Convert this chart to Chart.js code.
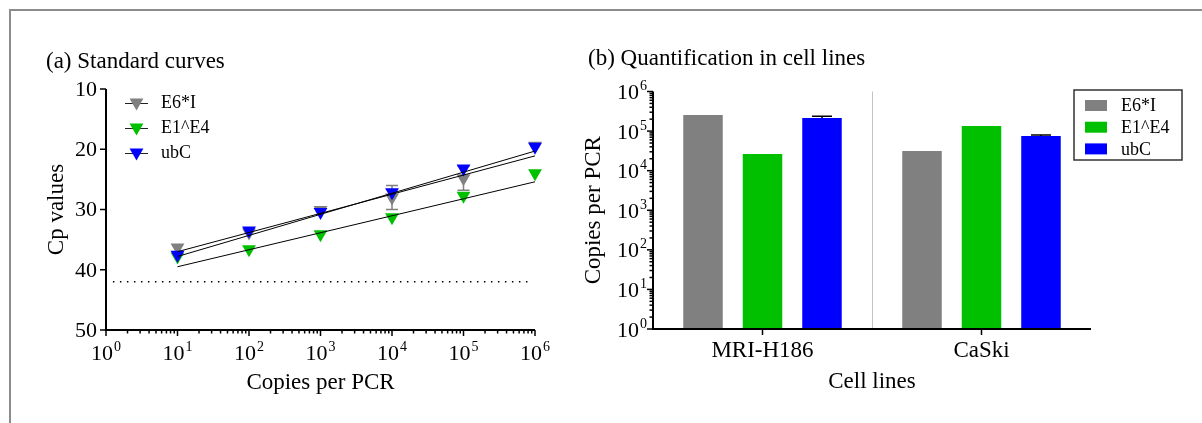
<!DOCTYPE html>
<html>
<head>
<meta charset="utf-8">
<script src="https://cdn.jsdelivr.net/npm/chart.js@4.4.1/dist/chart.umd.min.js"></script>
<style>
  html, body { margin: 0; padding: 0; background: #fff; }
  #page { position: relative; width: 1202px; height: 423px; overflow: hidden; }
  #frame { position: absolute; left: 9px; top: 9px; width: 1200px; height: 420px;
           border-top: 2px solid #8c8c8c; border-left: 2px solid #8c8c8c; }
  canvas { position: absolute; top: 0; }
</style>
</head>
<body>
<div id="page">
  <div id="frame"></div>
  <canvas id="curves" width="560" height="423" style="left:0"></canvas>
  <canvas id="cells" width="642" height="423" style="left:560px"></canvas>
</div>
<script>
const FONT = '"Liberation Serif", "Times New Roman", serif';

// (a) standard curves
const copies = [10, 100, 1000, 10000, 100000, 1000000];
const cpE6 = [36.3, 33.8, 30.1, 28.0, 24.8, 19.4];
const sdE6 = [0, 0, 0, 2.0, 2.0, 0];
const cpE1 = [37.8, 36.6, 34.1, 31.3, 27.7, 24.0];
const sdE1 = [0, 0, 0, 0, 0, 0];
const cpUbc = [37.5, 33.5, 30.4, 27.15, 23.2, 19.6];
const sdUbc = [0, 0, 0, 0, 0, 0];
const fitX = [10, 1000000];
const fitE6 = [37.0, 21.1];
const fitE1 = [39.5, 25.4];
const fitUbc = [37.8, 20.3];
const cutoffX = [1.25, 900000];
const cutoffCp = [42, 42];

// (b) quantification in cell lines
const cellLines = ['MRI-H186', 'CaSki'];
const barE6 = [255000, 31400];
const barE1 = [26400, 135000];
const barUbc = [214000, 75200];
const errE6 = [0, 0];
const errE1 = [0, 0];
const errUbc = [24000, 4500];

const seriesNames = ['E6*I', 'E1^E4', 'ubC'];
const seriesColors = ['#808080', '#00c000', '#0000ff'];

const xy = (xs, ys) => xs.map((x, i) => ({ x, y: ys[i] }));

function isDecade(v) {
  const l = Math.log10(v);
  return Math.abs(l - Math.round(l)) < 1e-6;
}

// log scale ticks at 1..9 x 10^n only (chart.js also makes 15, 150...)
function logTicks(scale) {
  return scale.ticks.map(t => t.value).filter(v => {
    const p = Math.pow(10, Math.floor(Math.log10(v) + 1e-9));
    return Math.abs(v / p - Math.round(v / p)) < 1e-6;
  });
}

function powerLabel(ctx, v, x, y, align) {
  const exp = String(Math.round(Math.log10(v)));
  ctx.font = '22px ' + FONT;
  const wb = ctx.measureText('10').width;
  ctx.font = '14px ' + FONT;
  const we = ctx.measureText(exp).width;
  const total = wb + 1 + we;
  const left = align === 'right' ? x - total : x - total / 2;
  ctx.textAlign = 'left';
  ctx.textBaseline = 'alphabetic';
  ctx.font = '22px ' + FONT;
  ctx.fillText('10', left, y);
  ctx.font = '14px ' + FONT;
  ctx.fillText(exp, left + wb + 1, y - 9);
}

function downTriangle(ctx, cx, cy, r, color) {
  const s = r * Math.sin(Math.PI / 3);
  ctx.beginPath();
  ctx.moveTo(cx, cy + r);
  ctx.lineTo(cx - s, cy - r / 2);
  ctx.lineTo(cx + s, cy - r / 2);
  ctx.closePath();
  ctx.fillStyle = color;
  ctx.fill();
}

const curveErrors = [sdE6, sdE1, sdUbc];

const curveDecor = {
  id: 'curveDecor',
  beforeDatasetsDraw(chart) {
    const { ctx, scales: { x, y } } = chart;
    ctx.save();
    ctx.lineWidth = 1.5;
    chart.data.datasets.forEach((ds, di) => {
      const sd = curveErrors[ds.series];
      if (!sd) return;
      ctx.strokeStyle = ds.backgroundColor;
      ds.data.forEach((p, i) => {
        if (!sd[i]) return;
        const px = x.getPixelForValue(p.x);
        const y1 = y.getPixelForValue(p.y - sd[i]);
        const y2 = y.getPixelForValue(p.y + sd[i]);
        ctx.beginPath();
        ctx.moveTo(px, y1); ctx.lineTo(px, y2);
        ctx.moveTo(px - 6, y1); ctx.lineTo(px + 6, y1);
        ctx.moveTo(px - 6, y2); ctx.lineTo(px + 6, y2);
        ctx.stroke();
      });
    });
    ctx.restore();
  },
  afterDraw(chart) {
    const { ctx, chartArea: a, scales: { x, y } } = chart;
    ctx.save();
    ctx.strokeStyle = '#000';
    ctx.fillStyle = '#000';
    ctx.lineWidth = 2;
    ctx.beginPath();
    ctx.moveTo(a.left, a.top);
    ctx.lineTo(a.left, a.bottom);
    ctx.lineTo(a.right, a.bottom);
    ctx.stroke();

    ctx.lineWidth = 1.5;
    y.ticks.forEach(t => {
      const py = y.getPixelForValue(t.value);
      ctx.beginPath(); ctx.moveTo(a.left - 6, py); ctx.lineTo(a.left, py); ctx.stroke();
      ctx.font = '22px ' + FONT;
      ctx.textAlign = 'right';
      ctx.textBaseline = 'middle';
      ctx.fillText(String(t.value), a.left - 9, py + 1);
    });
    logTicks(x).forEach(v => {
      const px = x.getPixelForValue(v);
      const major = isDecade(v);
      ctx.beginPath(); ctx.moveTo(px, a.bottom); ctx.lineTo(px, a.bottom + (major ? 6 : 3.5)); ctx.stroke();
      if (major) powerLabel(ctx, v, px, a.bottom + 30, 'center');
    });

    ctx.font = '23px ' + FONT;
    ctx.textAlign = 'left';
    ctx.textBaseline = 'alphabetic';
    ctx.fillText('(a) Standard curves', 46, 68);
    ctx.textAlign = 'center';
    ctx.fillText('Copies per PCR', (a.left + a.right) / 2, 389);
    ctx.save();
    ctx.translate(57, (a.top + a.bottom) / 2);
    ctx.rotate(-Math.PI / 2);
    ctx.textBaseline = 'middle';
    ctx.fillText('Cp values', 0, 0);
    ctx.restore();

    // legend
    seriesNames.forEach((name, i) => {
      const ly = 102.5 + 25 * i;
      ctx.strokeStyle = '#222';
      ctx.lineWidth = 1;
      ctx.beginPath(); ctx.moveTo(125, ly + 1); ctx.lineTo(148, ly + 1); ctx.stroke();
      downTriangle(ctx, 136.5, ly, 8, seriesColors[i]);
      ctx.fillStyle = '#000';
      ctx.font = '18px ' + FONT;
      ctx.textAlign = 'left';
      ctx.textBaseline = 'middle';
      ctx.fillText(name, 161, ly + 1);
    });
    ctx.restore();
  }
};

const pointSet = (i, ys, order) => ({
  label: seriesNames[i],
  series: i,
  data: xy(copies, ys),
  showLine: false,
  pointStyle: 'triangle',
  rotation: 180,
  pointRadius: 8,
  pointBorderWidth: 0,
  backgroundColor: seriesColors[i],
  borderColor: seriesColors[i],
  clip: false,
  order
});
const fitSet = ys => ({
  data: xy(fitX, ys),
  borderColor: '#000',
  borderWidth: 1,
  pointRadius: 0,
  fill: false,
  clip: false,
  order: 0
});

new Chart(document.getElementById('curves'), {
  type: 'line',
  data: {
    datasets: [
      pointSet(0, cpE6, 3),
      pointSet(1, cpE1, 2),
      pointSet(2, cpUbc, 1),
      fitSet(fitE6),
      fitSet(fitE1),
      fitSet(fitUbc),
      {
        data: xy(cutoffX, cutoffCp),
        borderColor: '#000',
        borderWidth: 1.5,
        borderDash: [1.5, 5.5],
        pointRadius: 0,
        order: 0
      }
    ]
  },
  options: {
    responsive: false,
    animation: false,
    events: [],
    layout: { padding: { left: 66, right: 25, top: 89, bottom: 53 } },
    plugins: { legend: { display: false }, tooltip: { enabled: false } },
    scales: {
      x: {
        type: 'logarithmic', min: 1, max: 1000000,
        grid: { display: false }, border: { display: false },
        ticks: { display: false },
        afterFit: s => { s.height = 40; }
      },
      y: {
        type: 'linear', reverse: true, min: 10, max: 50,
        grid: { display: false }, border: { display: false },
        ticks: { display: false, stepSize: 10 },
        afterFit: s => { s.width = 40; }
      }
    }
  },
  plugins: [curveDecor]
});

const barErrors = [errE6, errE1, errUbc];

const cellDecor = {
  id: 'cellDecor',
  beforeDatasetsDraw(chart) {
    const { ctx, chartArea: a, scales: { x } } = chart;
    const mid = Math.round((x.getPixelForTick(0) + x.getPixelForTick(1)) / 2) + 0.5;
    ctx.save();
    ctx.strokeStyle = '#c4c4c4';
    ctx.lineWidth = 1;
    ctx.beginPath(); ctx.moveTo(mid, a.top); ctx.lineTo(mid, a.bottom); ctx.stroke();
    ctx.restore();
  },
  afterDatasetsDraw(chart) {
    const { ctx, scales: { y } } = chart;
    ctx.save();
    ctx.strokeStyle = '#000';
    ctx.lineWidth = 1.5;
    chart.data.datasets.forEach((ds, di) => {
      const meta = chart.getDatasetMeta(di);
      ds.data.forEach((v, i) => {
        const e = barErrors[di][i];
        if (!e) return;
        const bar = meta.data[i];
        const top = y.getPixelForValue(v + e);
        ctx.beginPath();
        ctx.moveTo(bar.x, bar.y); ctx.lineTo(bar.x, top);
        ctx.moveTo(bar.x - 10, top); ctx.lineTo(bar.x + 10, top);
        ctx.stroke();
      });
    });
    ctx.restore();
  },
  afterDraw(chart) {
    const { ctx, chartArea: a, scales: { x, y } } = chart;
    ctx.save();
    ctx.strokeStyle = '#000';
    ctx.fillStyle = '#000';
    ctx.lineWidth = 2;
    ctx.beginPath();
    ctx.moveTo(a.left, a.top);
    ctx.lineTo(a.left, a.bottom);
    ctx.lineTo(a.right, a.bottom);
    ctx.stroke();

    ctx.lineWidth = 1.5;
    logTicks(y).forEach(v => {
      const py = y.getPixelForValue(v);
      const major = isDecade(v);
      ctx.beginPath(); ctx.moveTo(a.left - (major ? 6 : 3.5), py); ctx.lineTo(a.left, py); ctx.stroke();
      if (major) powerLabel(ctx, v, a.left - 6, py + 7.5, 'right');
    });
    chart.data.labels.forEach((lab, i) => {
      const px = x.getPixelForTick(i);
      ctx.beginPath(); ctx.moveTo(px, a.bottom); ctx.lineTo(px, a.bottom + 6); ctx.stroke();
      ctx.font = '23px ' + FONT;
      ctx.textAlign = 'center';
      ctx.textBaseline = 'alphabetic';
      ctx.fillText(lab, px, a.bottom + 28);
    });

    ctx.font = '23px ' + FONT;
    ctx.textAlign = 'left';
    ctx.fillText('(b) Quantification in cell lines', 28, 65);
    ctx.textAlign = 'center';
    ctx.fillText('Cell lines', (a.left + a.right) / 2, 388);
    ctx.save();
    ctx.translate(34, (a.top + a.bottom) / 2);
    ctx.rotate(-Math.PI / 2);
    ctx.textBaseline = 'middle';
    ctx.fillText('Copies per PCR', 0, 0);
    ctx.restore();

    // legend box
    ctx.strokeStyle = '#333';
    ctx.lineWidth = 1.5;
    ctx.strokeRect(514, 90, 108, 70);
    seriesNames.forEach((name, i) => {
      const ly = 105.5 + 21.7 * i;
      ctx.fillStyle = seriesColors[i];
      ctx.fillRect(525, ly - 5.5, 22, 11);
      ctx.fillStyle = '#000';
      ctx.font = '18px ' + FONT;
      ctx.textAlign = 'left';
      ctx.textBaseline = 'middle';
      ctx.fillText(name, 561, ly + 1);
    });
    ctx.restore();
  }
};

const barSet = (i, vals) => ({
  label: seriesNames[i],
  data: vals,
  backgroundColor: seriesColors[i],
  borderWidth: 0,
  categoryPercentage: 0.815,
  barPercentage: 0.664
});

new Chart(document.getElementById('cells'), {
  type: 'bar',
  data: {
    labels: cellLines,
    datasets: [barSet(0, barE6), barSet(1, barE1), barSet(2, barUbc)]
  },
  options: {
    responsive: false,
    animation: false,
    events: [],
    layout: { padding: { left: 53, right: 111, top: 91.5, bottom: 54 } },
    plugins: { legend: { display: false }, tooltip: { enabled: false } },
    scales: {
      x: {
        type: 'category',
        grid: { display: false }, border: { display: false },
        ticks: { display: false },
        afterFit: s => { s.height = 40; }
      },
      y: {
        type: 'logarithmic', min: 1, max: 1000000,
        grid: { display: false }, border: { display: false },
        ticks: { display: false },
        afterFit: s => { s.width = 40; }
      }
    }
  },
  plugins: [cellDecor]
});
</script>
</body>
</html>
